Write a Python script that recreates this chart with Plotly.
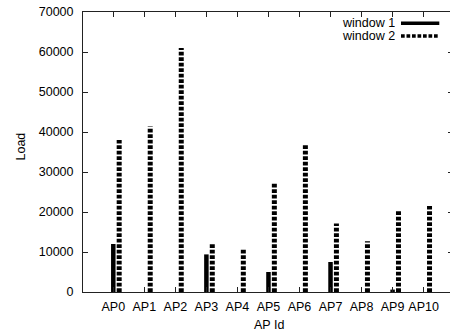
import plotly.graph_objects as go

categories = ["AP0", "AP1", "AP2", "AP3", "AP4", "AP5", "AP6", "AP7", "AP8", "AP9", "AP10"]
window1 = [12000, 0, 0, 9400, 0, 5000, 0, 7500, 0, 600, 0]
window2 = [38000, 41400, 61000, 12100, 10700, 27400, 36700, 17100, 12700, 20300, 21500]
series_names = ["window 1", "window 2"]
y_ticks = [0, 10000, 20000, 30000, 40000, 50000, 60000, 70000]

OFFSET2 = 0.19
FONT = "Liberation Sans, Arial, Helvetica, sans-serif"


def segments(vals, off):
    xs, ys = [], []
    for i, v in enumerate(vals):
        if v <= 0:
            continue
        xs += [i + off, i + off, None]
        ys += [0, v, None]
    return xs, ys


fig = go.Figure()
x1, y1 = segments(window1, 0.0)
fig.add_trace(go.Scatter(x=x1, y=y1, mode="lines", name=series_names[0],
                         line=dict(color="black", width=4.5), showlegend=False,
                         hoverinfo="skip"))
x2, y2 = segments(window2, OFFSET2)
fig.add_trace(go.Scatter(x=x2, y=y2, mode="lines", name=series_names[1],
                         line=dict(color="black", width=5, dash="3.7px,1.8px"),
                         showlegend=False, hoverinfo="skip"))

# invisible trace to activate the right-side mirror tick axis
fig.add_trace(go.Scatter(x=[None], y=[None], yaxis="y2", showlegend=False, hoverinfo="skip"))

axis_col = "#222222"
fig.update_layout(
    width=450, height=333,
    margin=dict(l=83, r=0, t=12, b=41, pad=0),
    paper_bgcolor="white", plot_bgcolor="white",
    font=dict(family=FONT, size=12.5, color="black"),
    xaxis=dict(range=[-0.976, 10.85], tickmode="array",
               tickvals=list(range(len(categories))), ticktext=categories,
               ticks="inside", ticklen=5, tickwidth=1, tickcolor=axis_col,
               showline=True, linecolor=axis_col, linewidth=1, mirror="ticks",
               showgrid=False, zeroline=False, ticklabelstandoff=3,
               tickfont=dict(size=12.5)),
    yaxis=dict(range=[0, 70000], tickmode="array", tickvals=y_ticks,
               ticktext=[str(v) for v in y_ticks],
               ticks="inside", ticklen=5, tickwidth=1, tickcolor=axis_col,
               showline=True, linecolor=axis_col, linewidth=1, mirror=False,
               showgrid=False, zeroline=False, ticklabelstandoff=6,
               tickfont=dict(size=12.5)),
    yaxis2=dict(range=[0, 70000], overlaying="y", side="right",
                tickmode="array", tickvals=y_ticks, showticklabels=False,
                ticks="inside", ticklen=2, tickwidth=1, tickcolor=axis_col,
                showline=False, showgrid=False, zeroline=False),
    showlegend=False,
)

W, H = 367.0, 280.0
L, T = 83.0, 12.0


def px_to_paper(px, py):
    return (px - L) / W, (T + H - py) / H


# axis titles
ax, ay = px_to_paper(20.8, 146.7)
fig.add_annotation(text="Load", x=ax, y=ay, xref="paper", yref="paper",
                   showarrow=False, textangle=-90, font=dict(size=12.5),
                   xanchor="center", yanchor="middle")
bx, by = px_to_paper(268.5, 325)
fig.add_annotation(text="AP Id", x=bx, y=by, xref="paper", yref="paper",
                   showarrow=False, font=dict(size=12.5),
                   xanchor="center", yanchor="middle")

# manual gnuplot-style key
rows = [23.3, 36.0]
styles = [dict(color="black", width=3.5), dict(color="black", width=3.5, dash="3.7px,1.8px")]
for name, ry, st in zip(series_names, rows, styles):
    tx, ty = px_to_paper(396, ry)
    fig.add_annotation(text=name, x=tx, y=ty, xref="paper", yref="paper",
                       showarrow=False, xanchor="right", yanchor="middle",
                       font=dict(size=12.5), height=12, borderpad=0)
    sx0, sy = px_to_paper(401, ry)
    sx1, _ = px_to_paper(439.3, ry)
    fig.add_shape(type="line", xref="paper", yref="paper", x0=sx0, x1=sx1,
                  y0=sy, y1=sy, line=st)

fig.write_html("out.html")
